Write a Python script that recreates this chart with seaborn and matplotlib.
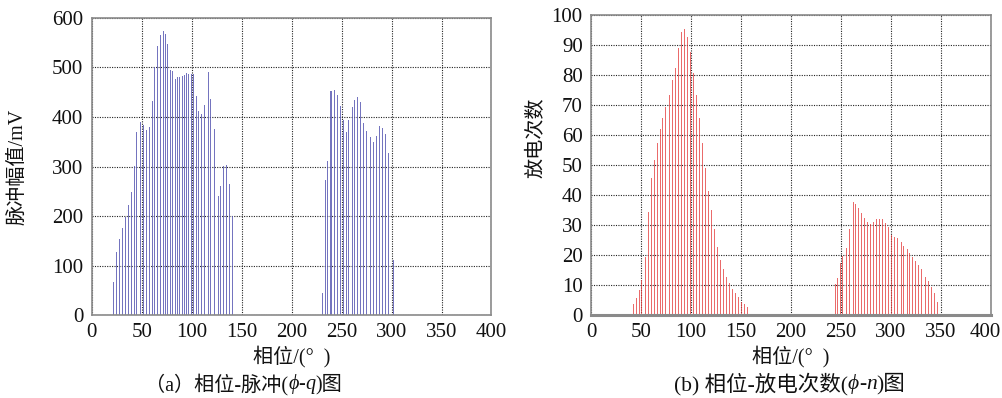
import numpy as np
import pandas as pd
import matplotlib
matplotlib.use("Agg")
import matplotlib.pyplot as plt
import matplotlib.transforms as mtransforms
import seaborn as sns

# ---- data ----
phase_a = [21.6, 24.6, 27.6, 30.6, 33.6, 36.6, 39.6, 43.0, 45.0, 49.0, 51.6, 55.0, 57.6, 60.6,
           63.3, 66.0, 69.3, 71.6, 74.3, 76.3, 78.6, 81.0, 83.6, 86.0, 88.3, 90.6, 93.0, 95.0,
           97.3, 100.0, 102.3, 104.6, 107.0, 110.0, 113.3, 116.6, 119.3, 122.6, 126.6, 129.0,
           131.6, 135.0, 137.6, 141.0,
           230.6, 233.6, 236.3, 239.0, 240.3, 242.6, 245.6, 249.0, 251.6, 254.6, 257.3, 260.6,
           263.3, 266.3, 269.3, 272.3, 275.0, 278.6, 281.6, 284.6, 287.6, 290.6, 293.6, 296.6, 302.0]
pulse_mv = [67, 127, 153, 176, 199, 223, 248, 301, 370, 389, 383, 374, 379, 432,
            500, 543, 566, 573, 567, 547, 495, 493, 477, 480, 480, 483, 485, 488,
            487, 487, 487, 442, 413, 406, 425, 490, 437, 376, 240, 260,
            301, 303, 265, 200,
            45, 272, 311, 453, 453, 455, 444, 423, 394, 370, 394, 421,
            435, 440, 431, 387, 372, 359, 350, 362, 381, 378, 366, 328, 111]

phase_b = [42.3, 45.3, 48.3, 51.0, 54.3, 57.3, 60.3, 63.3, 66.3, 69.3, 72.0, 75.0, 78.3, 81.3,
           84.3, 87.3, 90.3, 93.3, 96.3, 99.7, 102.3, 105.3, 108.7, 111.7, 114.3, 117.7, 120.3,
           123.3, 126.3, 129.3, 132.3, 135.3, 138.3, 141.3, 144.3, 147.3, 150.7, 153.7, 156.7,
           244.7, 246.7, 249.3, 251.7, 255.3, 258.3, 262.3, 264.7, 267.3, 270.7, 273.3, 276.3,
           280.0, 282.7, 285.7, 288.3, 291.7, 294.3, 297.3, 301.0, 304.0, 307.0, 310.3, 313.0,
           316.3, 319.0, 321.7, 324.3, 328.0, 331.0, 334.3, 337.3, 340.3, 343.7, 346.7]
counts = [3.8, 5.8, 8.4, 11.7, 19.2, 34.4, 45.6, 51.8, 57.2, 62.1, 65.8, 69.5, 73.2, 78.3,
          82.5, 89.0, 94.4, 95.3, 92.6, 87.7, 80.8, 73.2, 65.7, 57.4, 49.0, 41.5, 34.9,
          28.8, 22.7, 18.4, 15.4, 12.7, 10.8, 8.8, 7.2, 6.1, 4.5, 3.6, 2.8,
          10.2, 12.2, 17.4, 19.7, 22.2, 28.7, 37.8, 37.0, 35.8, 33.9, 32.2, 31.0,
          30.2, 31.1, 32.1, 32.0, 32.0, 30.8, 29.4, 26.7, 25.9, 25.6, 24.2, 23.0,
          21.9, 20.7, 19.4, 18.1, 16.6, 15.2, 12.8, 11.3, 9.2, 7.2, 4.2]

x_ticks = [0, 50, 100, 150, 200, 250, 300, 350, 400]
ya_ticks = [0, 100, 200, 300, 400, 500, 600]
yb_ticks = [0, 10, 20, 30, 40, 50, 60, 70, 80, 90, 100]

xlabel = "相位/(°  )"
ylabel_a = "脉冲幅值/mV"
ylabel_b = "放电次数"
# caption pieces: (text, italic?)
caption_a = [("（a）相位-脉冲(", False), ("ϕ", True), ("-", False), ("q", True), (")图", False)]
caption_b = [("(b) 相位-放电次数(", False), ("ϕ", True), ("-", False), ("n", True), (")图", False)]

# ---- style ----
sns.set_theme(style="white")
FAM = ["Liberation Serif", "Noto Sans CJK SC", "DejaVu Sans"]
ITFAM = ["Liberation Serif", "DejaVu Serif"]
plt.rcParams["font.family"] = FAM

W, H = 1002, 398
fig = plt.figure(figsize=(W / 100, H / 100), dpi=100)
fig.patch.set_facecolor("white")
ax_a = fig.add_axes([0.0915, 0.2085, 0.399, 0.7463])
ax_b = fig.add_axes([0.5898, 0.2085, 0.3992, 0.7538])

df_a = pd.DataFrame({"phase": phase_a, "q": pulse_mv})
df_b = pd.DataFrame({"phase": phase_b, "n": counts})

def bar_width(vals, target=1.0):
    d = np.diff(np.sort(np.unique(vals)))
    return target / d.min()

sns.barplot(data=df_a, x="phase", y="q", native_scale=True, width=bar_width(phase_a),
            color="#5c5cb4", saturation=1, linewidth=0, errorbar=None, ax=ax_a, alpha=0.85)
sns.barplot(data=df_b, x="phase", y="n", native_scale=True, width=bar_width(phase_b),
            color="#e43a3a", saturation=1, linewidth=0, errorbar=None, ax=ax_b, alpha=0.75)

for ax, yt, ylim in ((ax_a, ya_ticks, (0, 600)), (ax_b, yb_ticks, (0, 100))):
    ax.set_xlim(0, 400)
    ax.set_ylim(*ylim)
    ax.set_xticks(x_ticks)
    ax.set_xticklabels([str(t) for t in x_ticks])
    ax.set_yticks(yt)
    ax.set_yticklabels([str(t) for t in yt])
    ax.set_xlabel("")
    ax.set_ylabel("")
    ax.set_facecolor("white")
    ax.grid(True, color="#222222", linestyle=(0, (1, 1.2)), linewidth=0.8)
    ax.set_axisbelow(True)
    for s in ax.spines.values():
        s.set_visible(True)
        s.set_color("#8a8a8a")
        s.set_linewidth(1.2)
    ax.tick_params(direction="in", length=3, width=0.8, color="#444444",
                   labelsize=15, pad=6, labelcolor="#111111")
    for lab in ax.get_xticklabels() + ax.get_yticklabels():
        lab.set_family("Liberation Serif")
ax_b.spines["bottom"].set_linewidth(2.2)
# keep the last x tick label of panel (b) inside the picture
last = ax_b.get_xticklabels()[-1]
last.set_transform(last.get_transform() + mtransforms.ScaledTranslation(-6 / 100, 0, fig.dpi_scale_trans))

# axis labels
fig.text(0.291, 0.105, xlabel, ha="center", va="center", fontsize=14.5, family=FAM, color="#111111")
fig.text(0.789, 0.105, xlabel, ha="center", va="center", fontsize=14.5, family=FAM, color="#111111")
fig.text(0.018, 0.58, ylabel_a, ha="center", va="center", rotation=90, fontsize=14.5,
         family=FAM, color="#111111")
fig.text(0.536, 0.655, ylabel_b, ha="center", va="center", rotation=90, fontsize=14.5,
         family=FAM, color="#111111")

def rich_caption(xc, y, pieces, fontsize=13):
    renderer = fig.canvas.get_renderer()
    texts, widths = [], []
    for s, it in pieces:
        t = fig.text(0, y, s, ha="left", va="center", fontsize=fontsize,
                     family=ITFAM if it else FAM, style="italic" if it else "normal",
                     color="#111111")
        widths.append(t.get_window_extent(renderer).width)
        texts.append(t)
    x = xc * W - sum(widths) / 2
    for t, w in zip(texts, widths):
        t.set_x(x / W)
        x += w

rich_caption(0.243, 0.035, caption_a, fontsize=14.5)
rich_caption(0.788, 0.035, caption_b, fontsize=15.5)

fig.savefig("out.png", dpi=100, facecolor="white")
